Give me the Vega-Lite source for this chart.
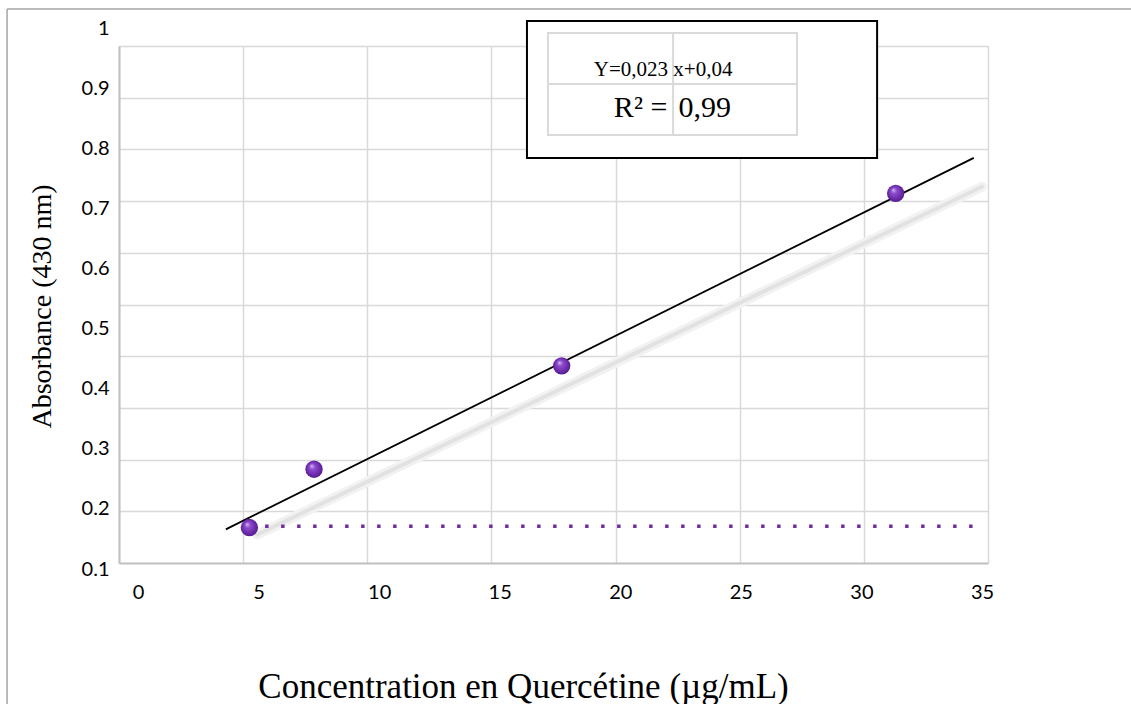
{
  "$schema": "https://vega.github.io/schema/vega-lite/v6.json",
  "width": 1131,
  "height": 704,
  "autosize": {"type": "none"},
  "padding": 0,
  "background": "white",
  "config": {"view": {"stroke": null}},
  "datasets": {
    "gridframe": [{"gx": 0, "gy": 0}, {"gx": 35, "gy": 1}],
    "border": [
      {"c": -5.43, "c2": -5.43, "a": 1.0316, "a2": -0.13},
      {"c": -5.43, "c2": 41.2, "a": 1.0316, "a2": 1.0316}
    ],
    "measures": [
      {"c": 4.62, "a": 0.169},
      {"c": 7.30, "a": 0.266},
      {"c": 17.57, "a": 0.438},
      {"c": 31.42, "a": 0.725}
    ],
    "trend": [{"c": 3.64, "a": 0.166}, {"c": 34.66, "a": 0.784}],
    "shadow": [{"c": 4.93, "a": 0.157}, {"c": 35.0, "a": 0.736}],
    "baseline": [{"c": 5.27, "a": 0.171}, {"c": 35.0, "a": 0.171}],
    "box": [{"c": 16.13, "c2": 30.65, "a": 1.0117, "a2": 0.7838}],
    "table": [{"c": 17.0, "c2": 27.33, "a": 0.9917, "a2": 0.822}],
    "tablelines": [
      {"c": 22.19, "c2": 22.19, "a": 0.9917, "a2": 0.822},
      {"c": 17.0, "c2": 27.33, "a": 0.9069, "a2": 0.9069}
    ],
    "equation": [
      {"part": "eq", "side": "right", "c": 21.98, "a": 0.9207, "t": "Y=0,023"},
      {"part": "eq", "side": "left", "c": 22.2, "a": 0.9207, "t": "x+0,04"},
      {"part": "r2", "side": "right", "c": 21.95, "a": 0.8514, "t": "R² ="},
      {"part": "r2", "side": "left", "c": 22.41, "a": 0.8514, "t": "0,99"}
    ]
  },
  "resolve": {"scale": {"x": "independent", "y": "independent"}},
  "layer": [
    {
      "data": {"name": "gridframe"},
      "mark": {"type": "point", "opacity": 0},
      "encoding": {
        "x": {
          "field": "gx", "type": "quantitative",
          "scale": {"domain": [0, 35], "range": [119, 988], "nice": false, "zero": false},
          "axis": {
            "orient": "top", "offset": 0,
            "values": [0, 5, 10, 15, 20, 25, 30, 35],
            "grid": true, "gridColor": "#d9d9d9", "gridWidth": 1.5,
            "labels": false, "ticks": false, "tickSize": 0,
            "domain": false,
            "title": null
          }
        },
        "y": {
          "field": "gy", "type": "quantitative",
          "scale": {"domain": [0, 1], "range": [563, 46], "nice": false, "zero": false},
          "axis": {
            "orient": "left", "offset": -119,
            "values": [0, 0.1, 0.2, 0.3, 0.4, 0.5, 0.6, 0.7, 0.8, 0.9, 1],
            "grid": true,
            "gridColor": {"condition": {"test": "datum.value == 0", "value": "#bfbfbf"}, "value": "#d9d9d9"},
            "gridWidth": {"condition": {"test": "datum.value == 0", "value": 2}, "value": 1.5},
            "labels": false, "ticks": false, "tickSize": 0,
            "domain": true, "domainColor": "#bfbfbf", "domainWidth": 2,
            "title": null
          }
        }
      }
    },
    {
      "encoding": {
        "x": {
          "field": "c", "type": "quantitative",
          "scale": {"domain": [0, 35], "range": [138, 982], "nice": false, "zero": false},
          "axis": {
            "orient": "bottom", "offset": -141,
            "values": [0, 5, 10, 15, 20, 25, 30, 35],
            "grid": false, "domain": false, "ticks": false, "tickSize": 0,
            "labelFont": "Lato", "labelFontSize": 20, "labelColor": "#000000",
            "labelPadding": 19, "labelFlush": false, "labelOverlap": false, "labelBound": false,
            "title": "Concentration en Quercétine (µg/mL)",
            "titleFont": "Liberation Serif", "titleFontSize": 35, "titleFontWeight": "normal",
            "titleColor": "#000000", "titleX": 523, "titleY": 134,
            "titleBaseline": "alphabetic", "titleAlign": "center"
          }
        },
        "y": {
          "field": "a", "type": "quantitative",
          "scale": {"domain": [0.1, 1], "range": [569, 28], "nice": false, "zero": false},
          "axis": {
            "orient": "left", "offset": -119,
            "values": [0.1, 0.2, 0.3, 0.4, 0.5, 0.6, 0.7, 0.8, 0.9, 1],
            "format": ".1~f",
            "grid": false, "domain": false, "ticks": false, "tickSize": 0,
            "labelFont": "Lato", "labelFontSize": 20, "labelColor": "#000000",
            "labelPadding": 10, "labelFlush": false, "labelOverlap": false, "labelBound": false,
            "title": "Absorbance (430 nm)",
            "titleFont": "Liberation Serif", "titleFontSize": 28, "titleFontWeight": "normal",
            "titleColor": "#000000", "titleX": -69, "titleY": 306,
            "titleBaseline": "alphabetic", "titleAlign": "center", "titleAngle": 270
          }
        }
      },
      "layer": [
        {
          "data": {"name": "border"},
          "mark": {"type": "rule", "color": "#a6a6a6", "strokeWidth": 1.5},
          "encoding": {"x2": {"field": "c2"}, "y2": {"field": "a2"}}
        },
        {
          "data": {"name": "shadow"},
          "mark": {"type": "line", "color": "#f2f2f2", "strokeWidth": 10, "strokeCap": "round"},
          "encoding": {}
        },
        {
          "data": {"name": "shadow"},
          "mark": {"type": "line", "color": "#e2e2e2", "strokeWidth": 4, "strokeCap": "round"},
          "encoding": {}
        },
        {
          "data": {"name": "baseline"},
          "mark": {"type": "line", "color": "#7030a0", "strokeWidth": 3.5, "strokeDash": [3.5, 12.5], "strokeCap": "butt"},
          "encoding": {}
        },
        {
          "data": {"name": "trend"},
          "mark": {"type": "line", "color": "#000000", "strokeWidth": 1.8},
          "encoding": {}
        },
        {
          "data": {"name": "measures"},
          "mark": {
            "type": "point", "filled": true, "size": 300, "opacity": 1, "strokeWidth": 0,
            "fill": {
              "gradient": "radial",
              "x1": 0.36, "y1": 0.3, "r1": 0,
              "x2": 0.5, "y2": 0.5, "r2": 0.55,
              "stops": [
                {"offset": 0, "color": "#d9bdf5"},
                {"offset": 0.3, "color": "#8c4ccc"},
                {"offset": 0.8, "color": "#6424a2"},
                {"offset": 1, "color": "#4a1880"}
              ]
            }
          }
        },
        {
          "data": {"name": "box"},
          "mark": {"type": "rect", "fill": "#ffffff", "stroke": "#000000", "strokeWidth": 2},
          "encoding": {"x2": {"field": "c2"}, "y2": {"field": "a2"}}
        },
        {
          "data": {"name": "table"},
          "mark": {"type": "rect", "fillOpacity": 0, "stroke": "#d9d9d9", "strokeWidth": 2},
          "encoding": {"x2": {"field": "c2"}, "y2": {"field": "a2"}}
        },
        {
          "data": {"name": "tablelines"},
          "mark": {"type": "rule", "color": "#d9d9d9", "strokeWidth": 2},
          "encoding": {"x2": {"field": "c2"}, "y2": {"field": "a2"}}
        },
        {
          "data": {"name": "equation"},
          "transform": [{"filter": "datum.side == 'right'"}],
          "mark": {"type": "text", "font": "Liberation Serif", "align": "right", "baseline": "alphabetic", "color": "#000000"},
          "encoding": {
            "text": {"field": "t"},
            "size": {"field": "part", "type": "nominal", "scale": {"domain": ["eq", "r2"], "range": [21, 30]}, "legend": null}
          }
        },
        {
          "data": {"name": "equation"},
          "transform": [{"filter": "datum.side == 'left'"}],
          "mark": {"type": "text", "font": "Liberation Serif", "align": "left", "baseline": "alphabetic", "color": "#000000"},
          "encoding": {
            "text": {"field": "t"},
            "size": {"field": "part", "type": "nominal", "scale": {"domain": ["eq", "r2"], "range": [21, 30]}, "legend": null}
          }
        }
      ]
    }
  ]
}
